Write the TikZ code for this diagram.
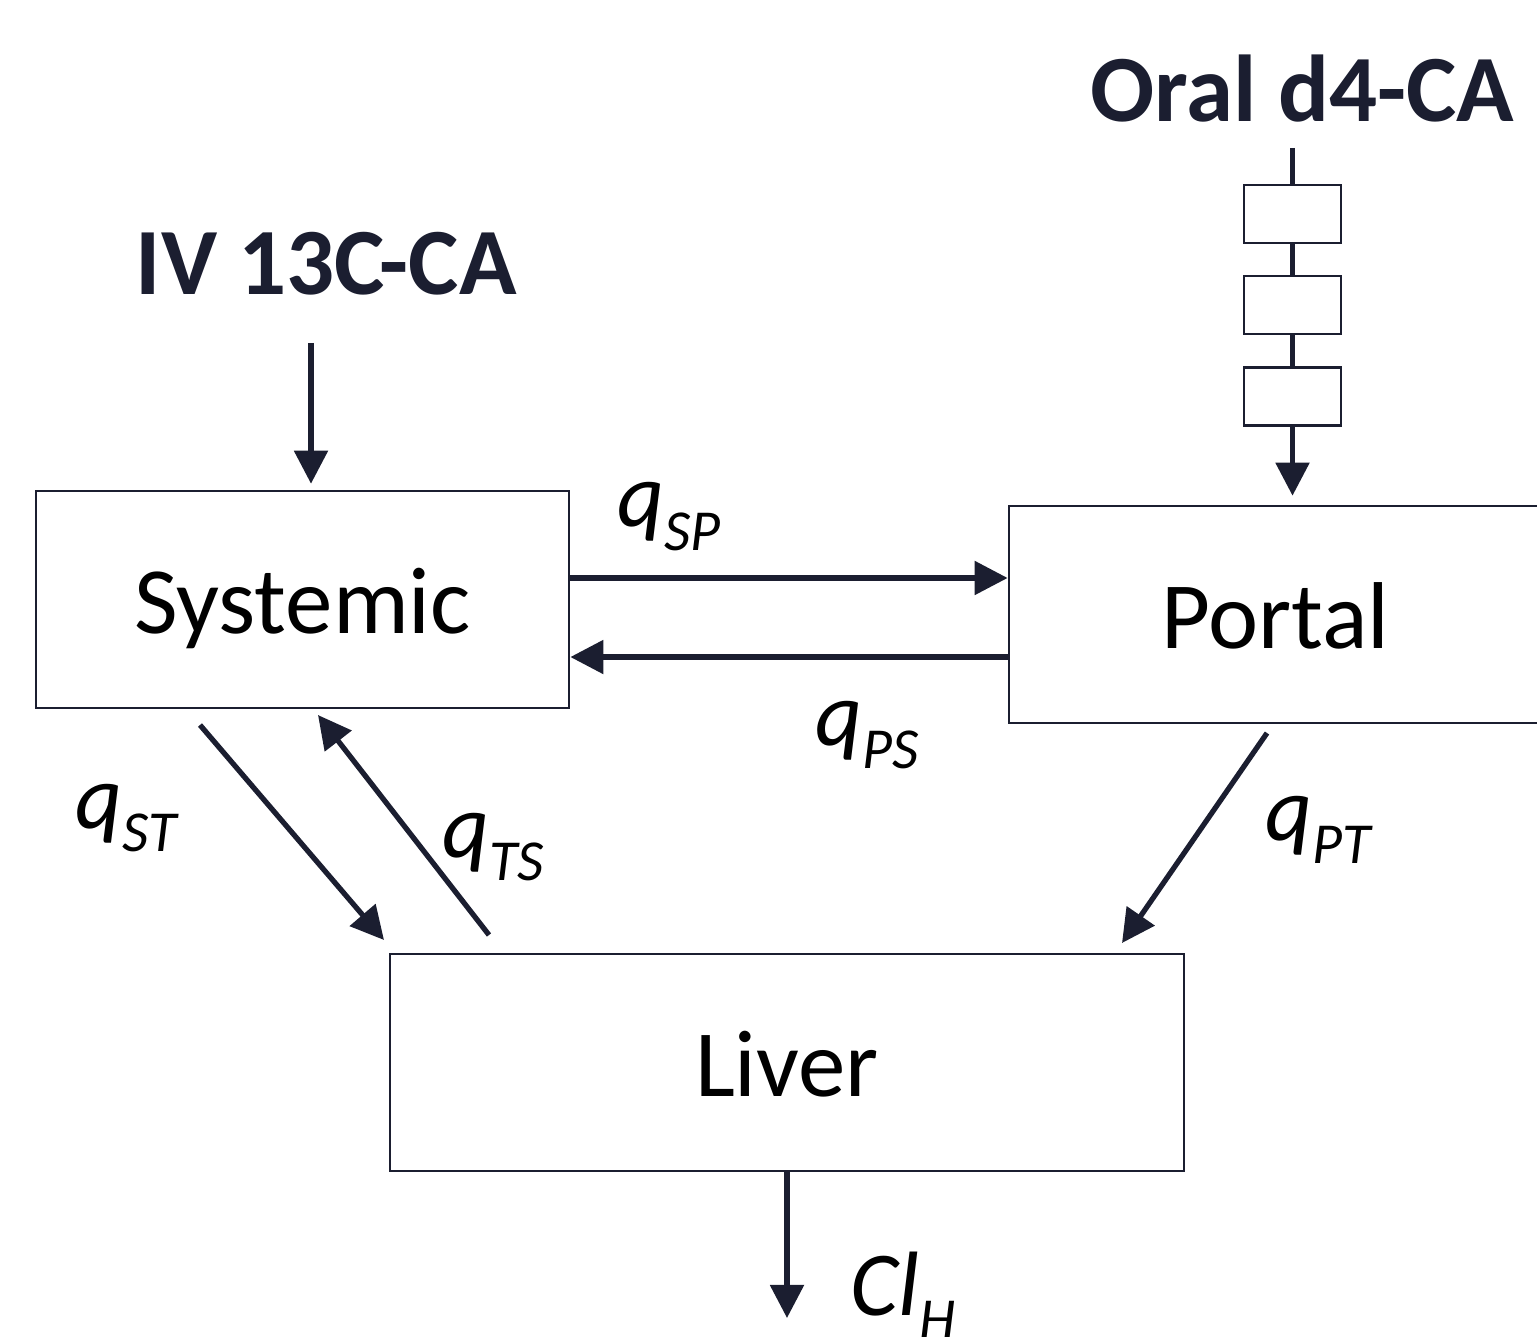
\documentclass[tikz,border=0pt]{standalone}
\usepackage{fontspec}
\setmainfont{Carlito}
\usepackage{xcolor}
\usepackage{tikz}
\usetikzlibrary{
	arrows.meta,
	calc,
	positioning
}
\definecolor{ink}{RGB}{27,30,48}
\newcommand{\lowsub}[1]{\raisebox{-0.23cm}{\fontsize{16.5}{20}\selectfont #1}}

\begin{document}
\begin{tikzpicture}[x=0.01cm,y=-0.01cm,
	comp/.style={draw=ink,line width=0.7pt,minimum width=5.33cm,minimum height=2.17cm,inner sep=0pt,text height=0.68cm,text depth=0pt,font=\fontsize{27}{32}\selectfont},
	stage/.style={draw=ink,line width=0.7pt,minimum width=0.97cm,minimum height=0.58cm,inner sep=0pt},
	flow/.style={draw=ink,line width=1.5pt,-{Triangle[length=0.33cm,width=0.33cm]}},
	lab/.style={font=\fontsize{26}{31}\selectfont\itshape,anchor=base west,inner sep=0pt},
	dose/.style={font=\fontsize{27}{32}\selectfont\bfseries,text=ink,anchor=base west,inner sep=0pt}]
		\useasboundingbox (0,0) rectangle (1537,1337);
		
		% 三个房室
		\node[comp] (sys) at (302.5,599.5) {Systemic};
		\node[comp] (portal) at (1275.5,614.5) {Portal};
		\node[comp,minimum width=7.94cm] (liver) at (787,1062.5) {Liver};
		
		% 口服吸收链
		\node[stage] (st1) at (1292.5,214) {};
		\node[stage] (st2) at (1292.5,305) {};
		\node[stage] (st3) at (1292.5,396.5) {};
		
		% 给药标题
		\node[dose] (iv) at (135,295) {IV 13C-CA};
		\node[dose] (oral) at (1090,122) {Oral d4-CA};
		
		% 箭头端点
		\coordinate (ivtop) at (311,343);
		\coordinate (oraltop) at (1292.5,148);
		\coordinate (stA) at (200,725);
		\coordinate (stB) at (384,940);
		\coordinate (tsA) at (489,935);
		\coordinate (tsB) at (318,715);
		\coordinate (ptA) at (1267,733);
		\coordinate (ptB) at (1122,943);
		\coordinate (clout) at (787,1318);
		
		\draw[flow,shorten >=0.06cm] (ivtop) -- (ivtop |- sys.north);
		\draw[draw=ink,line width=1.5pt] (oraltop) -- (st1.north) (st1.south) -- (st2.north) (st2.south) -- (st3.north);
		\draw[flow,shorten >=0.09cm] (st3.south) -- (st3.south |- portal.north);
		\draw[flow] ([yshift=0.215cm]sys.east) -- ([yshift=0.215cm]sys.east -| portal.west);
		\draw[flow] ([yshift=-0.425cm]portal.west) -- ([yshift=-0.425cm]portal.west -| sys.east);
		\draw[flow] (stA) -- (stB);
		\draw[flow] (tsA) -- (tsB);
		\draw[flow] (ptA) -- (ptB);
		\draw[flow] (liver.south) -- (clout);
		
		% 流量标签
		\node[lab] (qsp) at (617,527) {q\lowsub{SP}};
		\node[lab] (qps) at (815,745) {q\lowsub{PS}};
		\node[lab] (qst) at (75,828) {q\lowsub{ST}};
		\node[lab] (qts) at (442,857) {q\lowsub{TS}};
		\node[lab] (qpt) at (1265,840) {q\lowsub{PT}};
		\node[lab] (clh) at (850,1315) {Cl\lowsub{H}};
	\end{tikzpicture}
\end{document}
